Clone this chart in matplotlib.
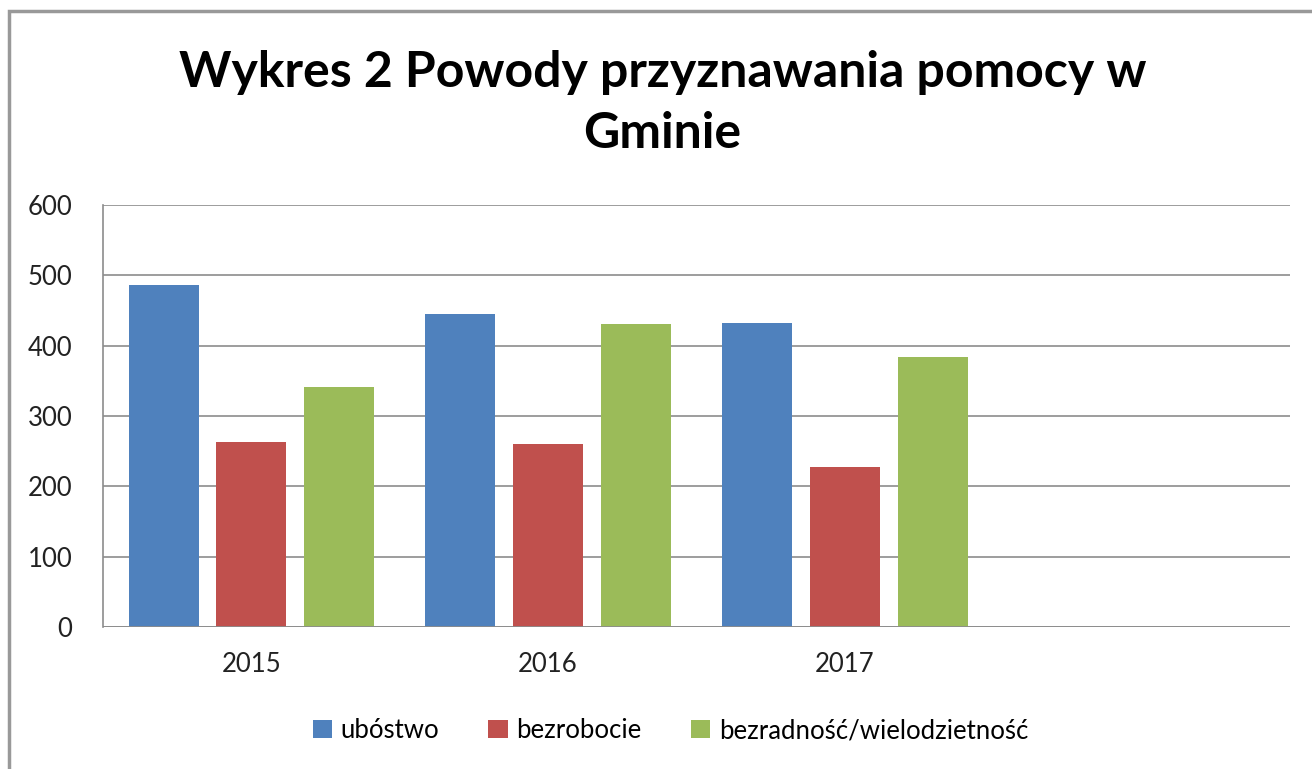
import numpy as np
import matplotlib.pyplot as plt
from matplotlib.patches import Rectangle

years = ['2015', '2016', '2017', '']
series = ['ubóstwo', 'bezrobocie', 'bezradność/wielodzietność']
ubostwo = [486, 445, 432]
bezrobocie = [263, 260, 227]
bezradnosc = [341, 431, 384]
colors = ['#4F81BD', '#C0504D', '#9BBB59']

plt.rcParams['font.family'] = ['Lato', 'DejaVu Sans']

fig = plt.figure(figsize=(13.12, 7.69), dpi=100)
ax = fig.add_axes([0.0785, 0.1847, 0.9047, 0.5487])

x = np.arange(len(years))
width = 0.236
step = 0.296
for i, (vals, name) in enumerate(zip([ubostwo, bezrobocie, bezradnosc], series)):
    ax.bar(x[:len(vals)] + (i - 1) * step, vals, width, color=colors[i], label=name, zorder=3)

ax.set_xlim(-0.5, len(years) - 0.5)
ax.set_ylim(0, 600)
ax.set_yticks(range(0, 601, 100))
ax.set_xticks(x)
ax.set_xticklabels(years)
ax.yaxis.grid(True, color='#8c8c8c', linewidth=1.2, zorder=0)
for s in ['top', 'right', 'bottom']:
    ax.spines[s].set_visible(False)
ax.spines['left'].set_color('#8c8c8c')
ax.spines['left'].set_linewidth(1.2)
ax.axhline(0, color='#8c8c8c', linewidth=2, zorder=4)
ax.tick_params(axis='both', length=0, labelsize=18.5, colors='#222222')
ax.tick_params(axis='y', pad=22)
ax.tick_params(axis='x', pad=18)

fig.text(0.505, 0.866, 'Wykres 2 Powody przyznawania pomocy w\nGminie', fontsize=36,
         fontweight='bold', ha='center', va='center', linespacing=1.45)

fig.legend(loc='center', bbox_to_anchor=(0.511, 0.05), ncol=3, frameon=False,
           fontsize=18.5, handlelength=0.75, handleheight=0.75, handletextpad=0.35,
           columnspacing=1.9)

fig.patches.append(Rectangle((9 / 1312, -0.1), 1.2, 1 - 11 / 769 + 0.1,
                             transform=fig.transFigure, fill=False,
                             edgecolor='#999999', linewidth=2.5))

fig.savefig('out.png', dpi=100)
